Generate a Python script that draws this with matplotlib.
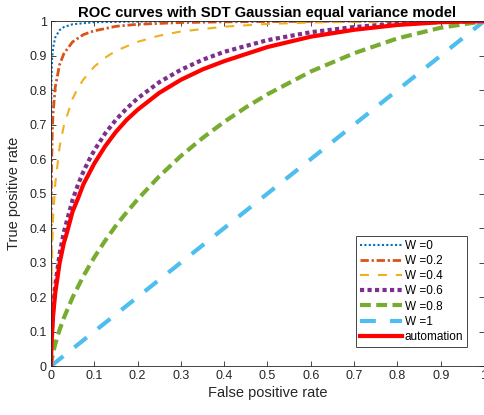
import matplotlib
matplotlib.use("Agg")
import matplotlib.pyplot as plt

plt.rcParams['font.family'] = ['Liberation Sans', 'DejaVu Sans']

# ROC points (false positive rate, true positive rate)
fpr_w0 = [0, 1e-7, 1e-6, 1e-5, 1e-4, 0.001, 0.002, 0.003, 0.005, 0.01, 0.02, 0.03, 0.05, 0.1, 0.2, 0.3, 0.5, 1.0]
tpr_w0 = [0, 0.115, 0.226, 0.395, 0.611, 0.819, 0.869, 0.895, 0.923, 0.953, 0.974, 0.983, 0.991, 0.997, 0.999, 1.0, 1.0, 1.0]

fpr_w02 = [0, 1e-6, 1e-5, 1e-4, 0.001, 0.003, 0.005, 0.01, 0.02, 0.03, 0.05, 0.075, 0.1, 0.15, 0.2, 0.3, 0.4, 0.5, 0.7, 1.0]
tpr_w02 = [0, 0.060, 0.143, 0.302, 0.544, 0.674, 0.734, 0.809, 0.874, 0.906, 0.940, 0.961, 0.972, 0.985, 0.991, 0.996, 0.998, 0.999, 1.0, 1.0]

fpr_w04 = [0, 1e-6, 1e-5, 1e-4, 0.001, 0.005, 0.01, 0.02, 0.03, 0.05, 0.0625, 0.075, 0.1, 0.125, 0.15, 0.2, 0.25, 0.3, 0.4, 0.5, 0.6, 0.7, 0.8, 1.0]
tpr_w04 = [0, 0.009, 0.031, 0.094, 0.245, 0.430, 0.529, 0.635, 0.698, 0.775, 0.807, 0.831, 0.868, 0.894, 0.914, 0.940, 0.958, 0.970, 0.984, 0.992, 0.996, 0.998, 0.999, 1.0]

fpr_w06 = [0, 1e-5, 1e-4, 0.001, 0.005, 0.01, 0.02, 0.03, 0.05, 0.0625, 0.075, 0.0875, 0.1, 0.125, 0.15, 0.175, 0.2, 0.25, 0.3, 0.35, 0.4, 0.5, 0.6, 0.7, 0.8, 0.9, 1.0]
tpr_w06 = [0, 0.004, 0.017, 0.068, 0.165, 0.234, 0.325, 0.389, 0.482, 0.526, 0.564, 0.596, 0.625, 0.674, 0.714, 0.747, 0.776, 0.823, 0.859, 0.888, 0.911, 0.945, 0.968, 0.983, 0.993, 0.998, 1.0]

fpr_w08 = [0, 1e-4, 0.001, 0.005, 0.01, 0.02, 0.03, 0.05, 0.075, 0.1, 0.125, 0.15, 0.175, 0.2, 0.25, 0.3, 0.35, 0.4, 0.45, 0.5, 0.6, 0.7, 0.8, 0.9, 1.0]
tpr_w08 = [0, 0.002, 0.011, 0.038, 0.064, 0.105, 0.140, 0.199, 0.261, 0.315, 0.363, 0.407, 0.446, 0.483, 0.550, 0.609, 0.661, 0.708, 0.750, 0.788, 0.854, 0.907, 0.950, 0.981, 1.0]

fpr_w1 = [0, 0.25, 0.5, 0.75, 1.0]
tpr_w1 = [0, 0.25, 0.5, 0.75, 1.0]

fpr_auto = [0, 1e-4, 0.001, 0.005, 0.01, 0.02, 0.03, 0.035, 0.04, 0.05, 0.0625, 0.075, 0.0875, 0.1, 0.125, 0.15, 0.175, 0.2, 0.25, 0.3, 0.35, 0.4, 0.5, 0.6, 0.7, 0.8, 0.9, 1.0]
tpr_auto = [0, 0.013, 0.058, 0.145, 0.212, 0.298, 0.358, 0.378, 0.401, 0.448, 0.486, 0.527, 0.557, 0.587, 0.637, 0.679, 0.714, 0.743, 0.792, 0.830, 0.860, 0.884, 0.925, 0.955, 0.975, 0.989, 0.997, 1.0]

labels = ['W =0', 'W =0.2', 'W =0.4', 'W =0.6', 'W =0.8', 'W =1', 'automation']
ticks = [0, 0.1, 0.2, 0.3, 0.4, 0.5, 0.6, 0.7, 0.8, 0.9, 1]
tick_labels = ['0', '0.1', '0.2', '0.3', '0.4', '0.5', '0.6', '0.7', '0.8', '0.9', '1']

fig = plt.figure(figsize=(4.85, 4.15), dpi=100)
ax = fig.add_axes([0.105, 0.118, 0.893, 0.831])

kw = dict(solid_joinstyle='round', dash_joinstyle='round')
ax.plot(fpr_w0, tpr_w0, color='#0072BD', lw=1.5, dashes=(1, 1.1), label=labels[0], **kw)
ax.plot(fpr_w02, tpr_w02, color='#D95319', lw=2, dashes=(3, 1, 0.8, 1), label=labels[1], **kw)
ax.plot(fpr_w04, tpr_w04, color='#EDB120', lw=1.5, dashes=(4.3, 4.3), label=labels[2], **kw)
ax.plot(fpr_w06, tpr_w06, color='#7E2F8E', lw=3, dashes=(1, 0.8), label=labels[3], **kw)
ax.plot(fpr_w08, tpr_w08, color='#77AC30', lw=3, dashes=(2.6, 1.3), label=labels[4], **kw)
ax.plot(fpr_w1, tpr_w1, color='#4DBEEE', lw=3, dashes=(3.8, 3.4), label=labels[5], **kw)
ax.plot(fpr_auto, tpr_auto, color='red', lw=3, label=labels[6], **kw)

ax.set_xlim(0, 1)
ax.set_ylim(0, 1)
ax.set_xticks(ticks)
ax.set_xticklabels(tick_labels)
ax.set_yticks(ticks)
ax.set_yticklabels(tick_labels)
ax.tick_params(direction='in', top=True, right=True, length=3.5, width=0.6,
               color='#262626', labelcolor='#262626', labelsize=9, pad=3)
for s in ax.spines.values():
    s.set_color('#262626')
    s.set_linewidth(0.6)

ax.set_xlabel('False positive rate', fontsize=10.5, color='#262626', labelpad=3)
ax.set_ylabel('True positive rate', fontsize=10.5, color='#262626', labelpad=6)
ax.set_title('ROC curves with SDT Gaussian equal variance model', fontsize=10.7,
             fontweight='bold', pad=3)

leg = ax.legend(loc='lower right', bbox_to_anchor=(0.961, 0.055), fontsize=8.5,
                frameon=True, fancybox=False, framealpha=1, edgecolor='#262626',
                handlelength=3.5, handletextpad=0.25, labelspacing=0.27,
                borderpad=0.35, borderaxespad=0)
leg.get_frame().set_linewidth(0.6)

fig.savefig('out.png', dpi=100)
